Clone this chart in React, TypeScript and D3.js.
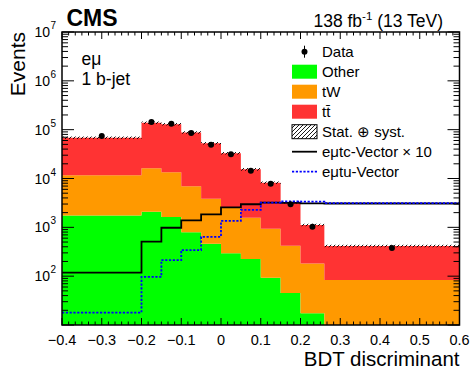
import React from "react";
import * as d3 from "d3";

// Bin edges of the BDT discriminant histogram
const edges = [-0.4, -0.2, -0.15, -0.1, -0.05, 0, 0.05, 0.1, 0.15, 0.2, 0.26, 0.6];
// Stacked background predictions (events per bin)
const other = [1740, 2090, 1630, 790, 460, 295, 225, 93, 45, 17.5, 6];
const tW = [9860, 14110, 11870, 6110, 3390, 2205, 1345, 847, 373, 165, 77];
const ttbar = [57000, 122800, 115500, 81100, 48750, 30300, 13830, 7260, 2830, 940, 332];
// Observed data
const dataObs = [74000, 143000, 132000, 85500, 49200, 31300, 14450, 7830, 2980, 1030, 378];
// Signal templates
const sigTcX10 = [118, 508, 980, 1390, 1850, 2570, 2970, 3200, 3180, 3100, 3080];
const sigTu = [17.9, 97, 214, 343, 640, 1350, 2270, 3200, 3400, 3350, 3120];
// Relative size of the total uncertainty band
const uncRel = 0.06;

const xTickValues = [-0.4, -0.3, -0.2, -0.1, 0, 0.1, 0.2, 0.3, 0.4, 0.5, 0.6];
const xTickLabels = ["\u22120.4", "\u22120.3", "\u22120.2", "\u22120.1", "0", "0.1", "0.2", "0.3", "0.4", "0.5", "0.6"];
const yDecades = [2, 3, 4, 5, 6, 7];

const W = 471;
const H = 369;
const L = 62, R = 459.5, T = 32, B = 325;
const FONT = "'Liberation Sans', Arial, Helvetica, sans-serif";

const COL_OTHER = "#00ff00";
const COL_TW = "#ff9900";
const COL_TT = "#ff3333";

export default function App() {
  const x = d3.scaleLinear().domain([-0.4, 0.6]).range([L, R]);
  const y = d3.scaleLog().domain([10, 1e7]).range([B, T]).clamp(true);

  const rows = edges.slice(0, -1).map((_, i) => ({ other: other[i], tw: tW[i], tt: ttbar[i] }));
  const stack = d3.stack<any>().keys(["other", "tw", "tt"])(rows);
  const n = rows.length;
  const idx = d3.range(n + 1);

  const stepArea = (lo: (i: number) => number, hi: (i: number) => number) =>
    d3
      .area<number>()
      .curve(d3.curveStepAfter)
      .x((i) => x(edges[i]))
      .y0((i) => y(Math.max(lo(Math.min(i, n - 1)), 10)))
      .y1((i) => y(Math.max(hi(Math.min(i, n - 1)), 10)))(idx) as string;

  const stepLine = (vals: number[]) =>
    d3
      .line<number>()
      .curve(d3.curveStepAfter)
      .x((i) => x(edges[i]))
      .y((i) => y(vals[Math.min(i, n - 1)]))(idx) as string;

  const colors = [COL_OTHER, COL_TW, COL_TT];
  const totals = rows.map((r) => r.other + r.tw + r.tt);

  // axis ticks
  const xMinor: number[] = [];
  for (let k = 0; k <= 60; k++) xMinor.push(-0.4 + k / 60);
  const yMajor = d3.range(1, 8).map((k) => Math.pow(10, k));
  const yMinor: number[] = [];
  for (let k = 1; k < 7; k++) for (let m = 2; m <= 9; m++) yMinor.push(m * Math.pow(10, k));

  const legendX = 292;
  const legendRow = (i: number) => 51.7 + 20 * i;
  const legendText = ["Data", "Other", "tW", "tt\u0304", "Stat. \u2295 syst.", "e\u03bctc-Vector \u00d7 10", "e\u03bctu-Vector"];

  return (
    <svg width={W} height={H} style={{ display: "block", position: "absolute", left: 0, top: 0, background: "#fff" }} fontFamily={FONT}>
      <defs>
        <clipPath id="plotClip">
          <rect x={L} y={T} width={R - L} height={B - T} />
        </clipPath>
        <pattern id="hatch" patternUnits="userSpaceOnUse" width="4" height="4">
          <path d="M0,4 L4,0 M-1,1 L1,-1 M3,5 L5,3" stroke="#000" strokeWidth="0.9" />
        </pattern>
      </defs>

      <g clipPath="url(#plotClip)">
        {stack.map((layer, li) => (
          <path
            key={li}
            d={stepArea((i) => layer[i][0], (i) => layer[i][1])}
            fill={colors[li]}
            stroke="none"
          />
        ))}
        <path
          d={stepArea((i) => totals[i] * (1 - uncRel), (i) => totals[i] * (1 + uncRel))}
          fill="url(#hatch)"
          stroke="none"
        />
        <path d={stepLine(sigTcX10)} fill="none" stroke="#000" strokeWidth={1.8} />
        <path d={stepLine(sigTu)} fill="none" stroke="#0000ff" strokeWidth={1.8} strokeDasharray="2.2,1.6" />
        {dataObs.map((v, i) => {
          const cx = x((edges[i] + edges[i + 1]) / 2);
          const err = Math.sqrt(v);
          return (
            <g key={i}>
              <line x1={cx} x2={cx} y1={y(v - err)} y2={y(v + err)} stroke="#000" strokeWidth={1} />
              <circle cx={cx} cy={y(v)} r={3} fill="#000" />
            </g>
          );
        })}
      </g>

      {/* frame */}
      <rect x={L} y={T} width={R - L} height={B - T} fill="none" stroke="#000" strokeWidth={1.5} />

      {/* x ticks, bottom and top */}
      {xMinor.map((v, k) => {
        const major = k % 6 === 0;
        const len = major ? 7 : 3.5;
        const px = x(v);
        return (
          <g key={"xt" + k}>
            <line x1={px} x2={px} y1={B} y2={B - len} stroke="#000" strokeWidth={1} />
            <line x1={px} x2={px} y1={T} y2={T + len} stroke="#000" strokeWidth={1} />
          </g>
        );
      })}

      {/* y ticks, left and right */}
      {yMajor.map((v) => (
        <g key={"ym" + v}>
          <line x1={L} x2={L + 12} y1={y(v)} y2={y(v)} stroke="#000" strokeWidth={1} />
          <line x1={R} x2={R - 12} y1={y(v)} y2={y(v)} stroke="#000" strokeWidth={1} />
        </g>
      ))}
      {yMinor.map((v) => (
        <g key={"yn" + v}>
          <line x1={L} x2={L + 6} y1={y(v)} y2={y(v)} stroke="#000" strokeWidth={1} />
          <line x1={R} x2={R - 6} y1={y(v)} y2={y(v)} stroke="#000" strokeWidth={1} />
        </g>
      ))}

      {/* x tick labels */}
      {xTickValues.map((v, i) => (
        <text key={"xl" + i} x={x(v)} y={344.5} textAnchor="middle" fontSize={14.5} fill="#000">
          {xTickLabels[i]}
        </text>
      ))}

      {/* y tick labels */}
      {yDecades.map((k) => (
        <g key={"yl" + k}>
          <text x={50} y={y(Math.pow(10, k)) + 5} textAnchor="end" fontSize={14} fill="#000">
            10
          </text>
          <text x={50.5} y={y(Math.pow(10, k)) - 3} fontSize={10} fill="#000">
            {k}
          </text>
        </g>
      ))}

      {/* axis titles */}
      <text x={R} y={366} textAnchor="end" fontSize={20.5} fill="#000">
        BDT discriminant
      </text>
      <text transform={`translate(25,${T}) rotate(-90)`} textAnchor="end" fontSize={21} fill="#000">
        Events
      </text>

      {/* header */}
      <text x={66.5} y={26} fontSize={23} fontWeight="bold" fill="#000">
        CMS
      </text>
      <text x={443} y={26.5} textAnchor="end" fontSize={17.5} fill="#000">
        <tspan>138 fb</tspan>
        <tspan dy={-7} fontSize={11.5}>-1</tspan>
        <tspan dy={7}> (13 TeV)</tspan>
      </text>

      {/* channel label */}
      <text x={81.5} y={65} fontSize={17.5} fill="#000">
        e{"\u03bc"}
      </text>
      <text x={81.5} y={85} fontSize={17.5} fill="#000">
        1 b-jet
      </text>

      {/* legend */}
      <g>
        <line x1={304.5} x2={304.5} y1={legendRow(0) - 6} y2={legendRow(0) + 6} stroke="#000" strokeWidth={1} />
        <circle cx={304.5} cy={legendRow(0)} r={3} fill="#000" />
        {[COL_OTHER, COL_TW, COL_TT].map((c, i) => (
          <rect key={"lb" + i} x={legendX} y={legendRow(i + 1) - 7} width={25} height={14} fill={c} />
        ))}
        <rect x={legendX} y={legendRow(4) - 7} width={25} height={14} fill="url(#hatch)" stroke="#000" strokeWidth={1} />
        <line x1={legendX} x2={legendX + 25} y1={legendRow(5)} y2={legendRow(5)} stroke="#000" strokeWidth={1.8} />
        <line x1={legendX} x2={legendX + 25} y1={legendRow(6)} y2={legendRow(6)} stroke="#0000ff" strokeWidth={1.8} strokeDasharray="2.2,1.6" />
        {legendText.map((t, i) => (
          <text key={"lt" + i} x={322} y={legendRow(i) + 5.5} fontSize={15} fill="#000">
            {t}
          </text>
        ))}
      </g>
    </svg>
  );
}
